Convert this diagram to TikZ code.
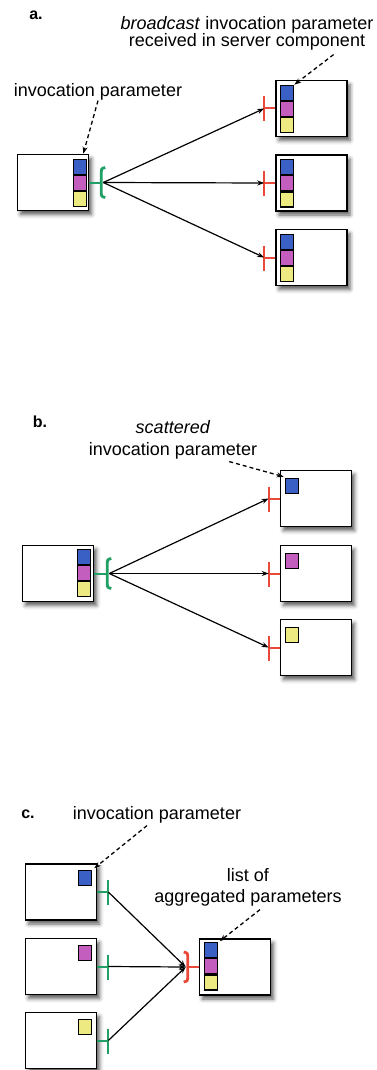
\documentclass[tikz,border=0pt]{standalone}
\usepackage{fontspec}
\setmainfont{Liberation Sans}
\usetikzlibrary{positioning,arrows.meta,shadows.blur}

\definecolor{pblue}{RGB}{58,96,198}
\definecolor{pmag}{RGB}{196,94,190}
\definecolor{pyel}{RGB}{238,234,130}
\definecolor{pgreen}{RGB}{32,160,100}
\definecolor{pred}{RGB}{234,72,56}

\tikzset{
  comp/.style={draw, line width=1.6pt, fill=white, minimum width=71pt, minimum height=56pt, inner sep=0pt,
    blur shadow={shadow xshift=3pt, shadow yshift=-4pt, shadow blur radius=4pt, shadow opacity=65}},
  cell/.style={draw, line width=1.1pt, minimum width=13pt, minimum height=15pt, inner sep=0pt},
  note/.style={font=\fontsize{18}{21}\selectfont, align=center, inner sep=0pt},
  tag/.style={font=\fontsize{16}{16}\selectfont\bfseries, inner sep=0pt},
  call/.style={line width=1.2pt, -{Stealth[length=7pt,width=5pt]}},
  hint/.style={line width=1.3pt, dash pattern=on 4pt off 3pt, -{Stealth[length=7pt,width=5pt]}},
  send/.style={draw=pgreen, line width=2pt},
  recv/.style={draw=pred, line width=2pt}
}

% three parameter cells, stacked
\newcommand{\pstack}[2]{%
  \node[cell, fill=pblue, anchor=north] (#1b) at (#2) {};
  \node[cell, fill=pmag, below=0pt of #1b] (#1m) {};
  \node[cell, fill=pyel, below=0pt of #1m] (#1y) {};
}
% bracket ends: #1 point, #2 = +4pt (opens right) or -4pt (opens left), #3 colour
\newcommand{\bracketend}[3]{%
  \draw[draw=#3, line width=2.8pt] ([shift={(#2,15pt)}]#1) .. controls ([shift={(0pt,14pt)}]#1) .. ([shift={(0pt,9pt)}]#1)
    -- ([shift={(0pt,-9pt)}]#1) .. controls ([shift={(0pt,-14pt)}]#1) .. ([shift={(#2,-15pt)}]#1);
}

\begin{document}
\begin{tikzpicture}[x=1pt,y=-1pt]
\useasboundingbox (0,0) rectangle (376,1070);

% a. broadcast
\node[tag] (tagA) at (36,15) {a.};
\node[note, font=\fontsize{18}{17}\selectfont] (bcast) at (247,33.5) {\textit{broadcast} invocation parameter\\received in server component};
\node[note] (ipA) at (98,92) {invocation parameter};
\node[comp] (cliA) at (53,182.5) {};
\pstack{pA}{[xshift=-9pt,yshift=-5pt]cliA.north east}
\coordinate[right=12pt of cliA.east] (gA);
\draw[send] (cliA.east) -- (gA);
\bracketend{gA}{4pt}{pgreen}
\foreach \y [count=\i] in {108.5,183,257.5} {
  \node[comp] (srvA\i) at (311.5,\y) {};
  \pstack{sA\i}{[xshift=12pt,yshift=-5pt]srvA\i.north west}
  \coordinate[left=11pt of srvA\i.west] (rA\i);
  \draw[recv] (srvA\i.west) -- (rA\i);
  \draw[recv] ([yshift=12pt]rA\i) -- ([yshift=-13pt]rA\i);
  \draw[call] ([xshift=2pt]gA) -- (rA\i);
}
\draw[hint] (ipA.south) -- ([xshift=3pt,yshift=5pt]pAb.north);
\draw[hint] ([xshift=-40pt,yshift=-4pt]bcast.south east) -- (sA1b.north east);

% b. scatter
\node[tag] (tagB) at (40,422) {b.};
\node[note, font=\fontsize{18}{22}\selectfont] (scat) at (173,440) {\textit{scattered}\\invocation parameter};
\node[comp] (cliB) at (58,573.5) {};
\pstack{pB}{[xshift=-10pt,yshift=-4pt]cliB.north east}
\coordinate[right=13pt of cliB.east] (gB);
\draw[send] (cliB.east) -- (gB);
\bracketend{gB}{4pt}{pgreen}
\foreach \y/\c [count=\i] in {498.5/pblue,573.5/pmag,647.5/pyel} {
  \node[comp] (srvB\i) at (316,\y) {};
  \node[cell, fill=\c, anchor=north west] (qB\i) at ([xshift=5pt,yshift=-8pt]srvB\i.north west) {};
  \coordinate[left=11pt of srvB\i.west] (rB\i);
  \draw[recv] (srvB\i.west) -- (rB\i);
  \draw[recv] ([yshift=12pt]rB\i) -- ([yshift=-13pt]rB\i);
  \draw[call] ([xshift=2pt]gB) -- (rB\i);
}
\draw[hint] ([xshift=-28pt,yshift=-2pt]scat.south east) -- ([xshift=-1pt,yshift=1pt]qB1.north west);

% c. gather
\node[tag] (tagC) at (28,814) {c.};
\node[note] (ipC) at (157,815) {invocation parameter};
\node[note] (agg) at (248,887.5) {list of\\aggregated parameters};
\node[comp] (srvC) at (235,967) {};
\pstack{sC}{[xshift=12pt,yshift=-4pt]srvC.north west}
\coordinate[left=11pt of srvC.west] (rC);
\draw[recv] (srvC.west) -- (rC);
\bracketend{rC}{-4pt}{pred}
\foreach \y/\c [count=\i] in {892/pblue,966.5/pmag,1040.5/pyel} {
  \node[comp] (cliC\i) at (61,\y) {};
  \node[cell, fill=\c, anchor=north east] (qC\i) at ([xshift=-5pt,yshift=-7pt]cliC\i.north east) {};
  \coordinate[right=11pt of cliC\i.east] (gC\i);
  \draw[send] (cliC\i.east) -- (gC\i);
  \draw[send] ([yshift=12pt]gC\i) -- ([yshift=-13pt]gC\i);
  \draw[call] (gC\i) -- ([xshift=-2pt]rC);
}
\draw[hint] ([xshift=-10pt,yshift=-2pt]ipC.south) -- ([xshift=2pt,yshift=2pt]qC1.north east);
\draw[hint] ([xshift=12pt,yshift=-3pt]agg.south) -- ([xshift=2pt,yshift=1pt]sCb.north east);

\end{tikzpicture}
\end{document}
